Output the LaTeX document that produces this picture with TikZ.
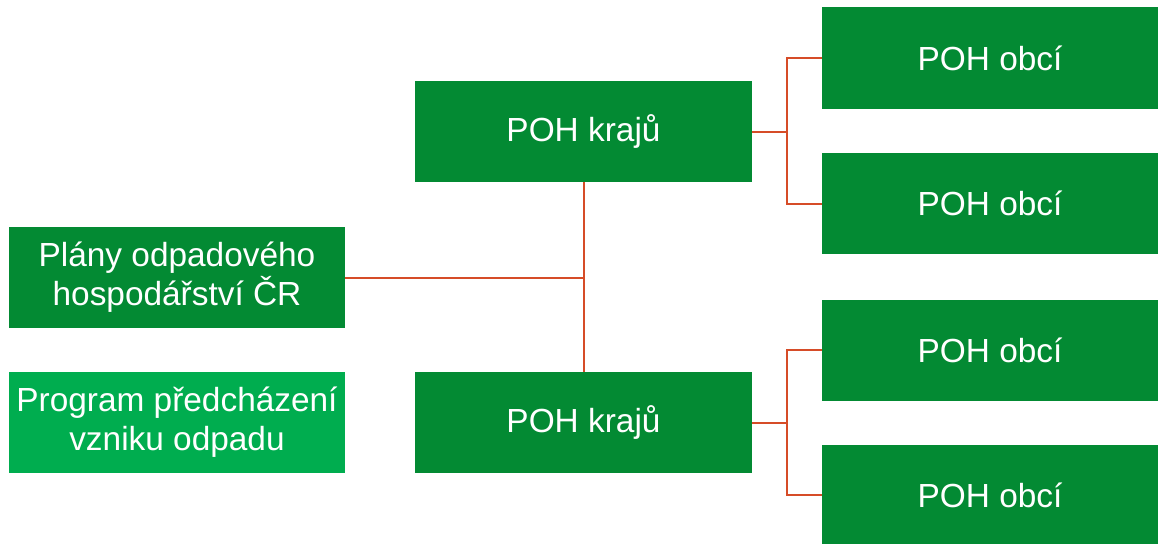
\documentclass[tikz,border=0pt]{standalone}
\usepackage{fontspec}
\setmainfont{Liberation Sans}
\definecolor{dgreen}{RGB}{3,138,51}
\definecolor{lgreen}{RGB}{0,173,79}
\definecolor{conn}{RGB}{214,76,40}
\begin{document}
\begin{tikzpicture}[x=1pt,y=-1pt,
  box/.style={fill=dgreen,draw=none,text=white,align=center,inner sep=0pt,
    font=\fontsize{33.4}{39}\selectfont},
  wide/.style={minimum width=336pt,minimum height=101pt},
  link/.style={draw=conn,line width=2pt}]
\useasboundingbox (0,0) rectangle (1158,543);
\node[box,wide] (plany) at (177,277.5) {Plány odpadového\\hospodářství ČR};
\node[box,wide,fill=lgreen] (prog) at (177,422.5) {Program předcházení\\vzniku odpadu};
\node[box,wide,minimum width=337pt] (k1) at (583.5,131.5) {POH krajů};
\node[box,wide,minimum width=337pt] (k2) at (583.5,422.5) {POH krajů};
\node[box,wide] (o1) at (990,58) {POH obcí};
\node[box,wide] (o2) at (990,203.5) {POH obcí};
\node[box,wide] (o3) at (990,350) {POH obcí};
\node[box,wide] (o4) at (990,495) {POH obcí};
\coordinate (jm) at (k1.south |- plany.east);
\coordinate (j1) at (787,131.5);
\coordinate (j2) at (787,422.5);
\draw[link] (k1.south) -- (k2.north);
\draw[link] (plany.east) -- (jm);
\draw[link] (k1.east) -- (j1);
\draw[link] (o1.west) -| (j1) |- (o2.west);
\draw[link] (k2.east) -- (j2);
\draw[link] (o3.west) -| (j2) |- (o4.west);
\end{tikzpicture}
\end{document}
